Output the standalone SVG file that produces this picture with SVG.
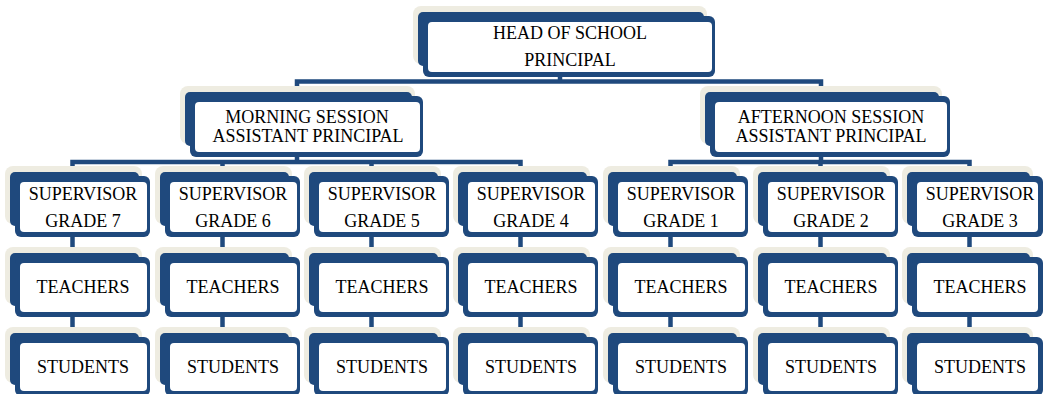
<svg xmlns="http://www.w3.org/2000/svg" width="1045" height="394" viewBox="0 0 1045 394">
  <style>
    .sh { fill: #EEECE1; }
    .bk { fill: #1F497D; }
    .fr { fill: #FFFFFF; }
    .ln { fill: none; stroke: #1F497D; stroke-width: 4.5; }
    text { font-family: "Liberation Serif", "Times New Roman", serif; font-size: 18px; fill: #000; text-anchor: middle; }
  </style>
  <rect width="1045" height="394" fill="#FFFFFF"/>

  <!-- connectors -->
  <g id="connectors" class="ln">
    <path d="M560 74 V81.5"/>
    <path d="M297 90 V81.5 H821 V90"/>
    <path d="M297 153 V162"/>
    <path d="M72.5 169 V162 H520.5 V169"/>
    <path d="M222.5 162 V169"/>
    <path d="M371.5 162 V169"/>
    <path d="M821 154 V162"/>
    <path d="M670.5 169 V162 H969.5 V169"/>
    <path d="M820.5 162 V169"/>
    <path d="M72.5 236 V249 M222.5 236 V249 M371.5 236 V249 M520.5 236 V249 M670.5 236 V249 M820.5 236 V249 M969.5 236 V249"/>
    <path d="M72.5 316 V329 M222.5 316 V329 M371.5 316 V329 M520.5 316 V329 M670.5 316 V329 M820.5 316 V329 M969.5 316 V329"/>
  </g>

  <!-- head -->
  <g id="head" transform="translate(428,22)">
    <rect class="sh" x="-15" y="-16" width="294" height="58" rx="8"/>
    <rect class="bk" x="-10" y="-10" width="286" height="54" rx="5"/>
    <rect class="bk" x="-5" y="-6" width="292" height="61" rx="6"/>
    <rect class="fr" width="284" height="50" rx="4"/>
    <text x="142" y="17">HEAD OF SCHOOL</text>
    <text x="142" y="44">PRINCIPAL</text>
  </g>

  <!-- session heads -->
  <g id="morning" transform="translate(195,102)">
    <rect class="sh" x="-15" y="-16" width="235" height="58" rx="8"/>
    <rect class="bk" x="-10" y="-10" width="227" height="54" rx="5"/>
    <rect class="bk" x="-5" y="-6" width="233" height="61" rx="6"/>
    <rect class="fr" width="225" height="50" rx="4"/>
    <text x="112" y="21">MORNING SESSION</text>
    <text x="113" y="40">ASSISTANT PRINCIPAL</text>
  </g>
  <g id="afternoon" transform="translate(715,102)">
    <rect class="sh" x="-15" y="-16" width="242" height="58" rx="8"/>
    <rect class="bk" x="-10" y="-10" width="234" height="54" rx="5"/>
    <rect class="bk" x="-5" y="-6" width="240" height="61" rx="6"/>
    <rect class="fr" width="232" height="50" rx="4"/>
    <text x="116" y="21">AFTERNOON SESSION</text>
    <text x="116" y="40">ASSISTANT PRINCIPAL</text>
  </g>

  <!-- supervisors -->
  <g id="sup7" transform="translate(20,182)">
    <rect class="sh" x="-15" y="-16" width="137" height="58" rx="8"/>
    <rect class="bk" x="-10" y="-10" width="129" height="54" rx="5"/>
    <rect class="bk" x="-5" y="-6" width="135" height="61" rx="6"/>
    <rect class="fr" width="127" height="50" rx="4"/>
    <text x="63" y="18">SUPERVISOR</text>
    <text x="63" y="45">GRADE 7</text>
  </g>
  <g id="sup6" transform="translate(170,182)">
    <rect class="sh" x="-15" y="-16" width="137" height="58" rx="8"/>
    <rect class="bk" x="-10" y="-10" width="129" height="54" rx="5"/>
    <rect class="bk" x="-5" y="-6" width="135" height="61" rx="6"/>
    <rect class="fr" width="127" height="50" rx="4"/>
    <text x="63" y="18">SUPERVISOR</text>
    <text x="63" y="45">GRADE 6</text>
  </g>
  <g id="sup5" transform="translate(319,182)">
    <rect class="sh" x="-15" y="-16" width="137" height="58" rx="8"/>
    <rect class="bk" x="-10" y="-10" width="129" height="54" rx="5"/>
    <rect class="bk" x="-5" y="-6" width="135" height="61" rx="6"/>
    <rect class="fr" width="127" height="50" rx="4"/>
    <text x="63" y="18">SUPERVISOR</text>
    <text x="63" y="45">GRADE 5</text>
  </g>
  <g id="sup4" transform="translate(468,182)">
    <rect class="sh" x="-15" y="-16" width="137" height="58" rx="8"/>
    <rect class="bk" x="-10" y="-10" width="129" height="54" rx="5"/>
    <rect class="bk" x="-5" y="-6" width="135" height="61" rx="6"/>
    <rect class="fr" width="127" height="50" rx="4"/>
    <text x="63" y="18">SUPERVISOR</text>
    <text x="63" y="45">GRADE 4</text>
  </g>
  <g id="sup1" transform="translate(618,182)">
    <rect class="sh" x="-15" y="-16" width="137" height="58" rx="8"/>
    <rect class="bk" x="-10" y="-10" width="129" height="54" rx="5"/>
    <rect class="bk" x="-5" y="-6" width="135" height="61" rx="6"/>
    <rect class="fr" width="127" height="50" rx="4"/>
    <text x="63" y="18">SUPERVISOR</text>
    <text x="63" y="45">GRADE 1</text>
  </g>
  <g id="sup2" transform="translate(768,182)">
    <rect class="sh" x="-15" y="-16" width="137" height="58" rx="8"/>
    <rect class="bk" x="-10" y="-10" width="129" height="54" rx="5"/>
    <rect class="bk" x="-5" y="-6" width="135" height="61" rx="6"/>
    <rect class="fr" width="127" height="50" rx="4"/>
    <text x="63" y="18">SUPERVISOR</text>
    <text x="63" y="45">GRADE 2</text>
  </g>
  <g id="sup3" transform="translate(917,182)">
    <rect class="sh" x="-15" y="-16" width="131" height="58" rx="8"/>
    <rect class="bk" x="-10" y="-10" width="123" height="54" rx="5"/>
    <rect class="bk" x="-5" y="-6" width="131" height="61" rx="6"/>
    <rect class="fr" width="121" height="50" rx="4"/>
    <text x="63" y="18">SUPERVISOR</text>
    <text x="63" y="45">GRADE 3</text>
  </g>

  <!-- teachers -->
  <g id="teach7" transform="translate(20,263)">
    <rect class="sh" x="-15" y="-16" width="137" height="57" rx="8"/>
    <rect class="bk" x="-10" y="-10" width="129" height="53" rx="5"/>
    <rect class="bk" x="-5" y="-6" width="135" height="60" rx="6"/>
    <rect class="fr" width="127" height="49" rx="4"/>
    <text x="63" y="30">TEACHERS</text>
  </g>
  <g id="teach6" transform="translate(170,263)">
    <rect class="sh" x="-15" y="-16" width="137" height="57" rx="8"/>
    <rect class="bk" x="-10" y="-10" width="129" height="53" rx="5"/>
    <rect class="bk" x="-5" y="-6" width="135" height="60" rx="6"/>
    <rect class="fr" width="127" height="49" rx="4"/>
    <text x="63" y="30">TEACHERS</text>
  </g>
  <g id="teach5" transform="translate(319,263)">
    <rect class="sh" x="-15" y="-16" width="137" height="57" rx="8"/>
    <rect class="bk" x="-10" y="-10" width="129" height="53" rx="5"/>
    <rect class="bk" x="-5" y="-6" width="135" height="60" rx="6"/>
    <rect class="fr" width="127" height="49" rx="4"/>
    <text x="63" y="30">TEACHERS</text>
  </g>
  <g id="teach4" transform="translate(468,263)">
    <rect class="sh" x="-15" y="-16" width="137" height="57" rx="8"/>
    <rect class="bk" x="-10" y="-10" width="129" height="53" rx="5"/>
    <rect class="bk" x="-5" y="-6" width="135" height="60" rx="6"/>
    <rect class="fr" width="127" height="49" rx="4"/>
    <text x="63" y="30">TEACHERS</text>
  </g>
  <g id="teach1" transform="translate(618,263)">
    <rect class="sh" x="-15" y="-16" width="137" height="57" rx="8"/>
    <rect class="bk" x="-10" y="-10" width="129" height="53" rx="5"/>
    <rect class="bk" x="-5" y="-6" width="135" height="60" rx="6"/>
    <rect class="fr" width="127" height="49" rx="4"/>
    <text x="63" y="30">TEACHERS</text>
  </g>
  <g id="teach2" transform="translate(768,263)">
    <rect class="sh" x="-15" y="-16" width="137" height="57" rx="8"/>
    <rect class="bk" x="-10" y="-10" width="129" height="53" rx="5"/>
    <rect class="bk" x="-5" y="-6" width="135" height="60" rx="6"/>
    <rect class="fr" width="127" height="49" rx="4"/>
    <text x="63" y="30">TEACHERS</text>
  </g>
  <g id="teach3" transform="translate(917,263)">
    <rect class="sh" x="-15" y="-16" width="131" height="57" rx="8"/>
    <rect class="bk" x="-10" y="-10" width="123" height="53" rx="5"/>
    <rect class="bk" x="-5" y="-6" width="131" height="60" rx="6"/>
    <rect class="fr" width="121" height="49" rx="4"/>
    <text x="63" y="30">TEACHERS</text>
  </g>

  <!-- students -->
  <g id="stud7" transform="translate(20,343)">
    <rect class="sh" x="-15" y="-16" width="137" height="56" rx="8"/>
    <rect class="bk" x="-10" y="-10" width="129" height="52" rx="5"/>
    <rect class="bk" x="-5" y="-6" width="135" height="59" rx="6"/>
    <rect class="fr" width="127" height="48" rx="4"/>
    <text x="63" y="30">STUDENTS</text>
  </g>
  <g id="stud6" transform="translate(170,343)">
    <rect class="sh" x="-15" y="-16" width="137" height="56" rx="8"/>
    <rect class="bk" x="-10" y="-10" width="129" height="52" rx="5"/>
    <rect class="bk" x="-5" y="-6" width="135" height="59" rx="6"/>
    <rect class="fr" width="127" height="48" rx="4"/>
    <text x="63" y="30">STUDENTS</text>
  </g>
  <g id="stud5" transform="translate(319,343)">
    <rect class="sh" x="-15" y="-16" width="137" height="56" rx="8"/>
    <rect class="bk" x="-10" y="-10" width="129" height="52" rx="5"/>
    <rect class="bk" x="-5" y="-6" width="135" height="59" rx="6"/>
    <rect class="fr" width="127" height="48" rx="4"/>
    <text x="63" y="30">STUDENTS</text>
  </g>
  <g id="stud4" transform="translate(468,343)">
    <rect class="sh" x="-15" y="-16" width="137" height="56" rx="8"/>
    <rect class="bk" x="-10" y="-10" width="129" height="52" rx="5"/>
    <rect class="bk" x="-5" y="-6" width="135" height="59" rx="6"/>
    <rect class="fr" width="127" height="48" rx="4"/>
    <text x="63" y="30">STUDENTS</text>
  </g>
  <g id="stud1" transform="translate(618,343)">
    <rect class="sh" x="-15" y="-16" width="137" height="56" rx="8"/>
    <rect class="bk" x="-10" y="-10" width="129" height="52" rx="5"/>
    <rect class="bk" x="-5" y="-6" width="135" height="59" rx="6"/>
    <rect class="fr" width="127" height="48" rx="4"/>
    <text x="63" y="30">STUDENTS</text>
  </g>
  <g id="stud2" transform="translate(768,343)">
    <rect class="sh" x="-15" y="-16" width="137" height="56" rx="8"/>
    <rect class="bk" x="-10" y="-10" width="129" height="52" rx="5"/>
    <rect class="bk" x="-5" y="-6" width="135" height="59" rx="6"/>
    <rect class="fr" width="127" height="48" rx="4"/>
    <text x="63" y="30">STUDENTS</text>
  </g>
  <g id="stud3" transform="translate(917,343)">
    <rect class="sh" x="-15" y="-16" width="131" height="56" rx="8"/>
    <rect class="bk" x="-10" y="-10" width="123" height="52" rx="5"/>
    <rect class="bk" x="-5" y="-6" width="131" height="59" rx="6"/>
    <rect class="fr" width="121" height="48" rx="4"/>
    <text x="63" y="30">STUDENTS</text>
  </g>
</svg>
